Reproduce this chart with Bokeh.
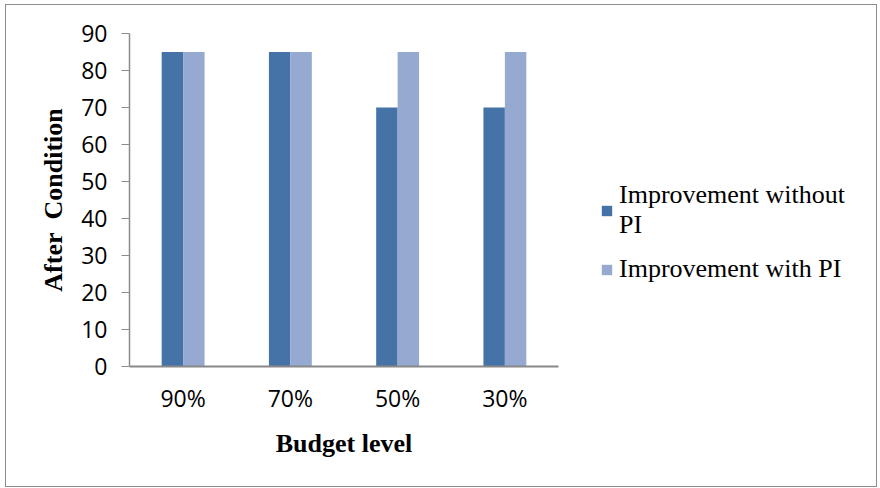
from bokeh.plotting import figure
from bokeh.models import FactorRange, Range1d, ColumnDataSource, Legend, LegendItem, SingleIntervalTicker
from bokeh.transform import dodge
from bokeh.embed import file_html
from bokeh.resources import INLINE

categories = ["90%", "70%", "50%", "30%"]
without_pi = [85, 85, 70, 70]
with_pi = [85, 85, 85, 85]
series_names = ["Improvement without\nPI", "Improvement with PI"]
colors = ["#4673A7", "#95A9D1"]

src = ColumnDataSource(dict(cat=categories, a=without_pi, b=with_pi))

p = figure(
    x_range=FactorRange(factors=categories, range_padding=0),
    y_range=Range1d(0, 90),
    frame_width=429, frame_height=333,
    min_border_left=123, min_border_right=300,
    min_border_top=28, min_border_bottom=120,
    output_backend="svg", toolbar_location=None,
)
p.margin = (4, 0, 0, 5)
p.styles = {"border": "1px solid #8c8c8c", "width": "870px", "height": "481px",
            "overflow": "hidden", "box-sizing": "content-box"}
p.outline_line_color = None
p.grid.grid_line_color = None
p.background_fill_color = "white"
p.border_fill_color = "white"

r1 = p.vbar(x=dodge("cat", -0.1, range=p.x_range), top="a", width=0.2, source=src,
            fill_color=colors[0], line_color=None)
r2 = p.vbar(x=dodge("cat", 0.1, range=p.x_range), top="b", width=0.2, source=src,
            fill_color=colors[1], line_color=None)

# y axis
ya = p.yaxis[0]
ya.ticker = SingleIntervalTicker(interval=10)
ya.axis_label = "After\u00a0 Condition"
ya.axis_label_text_font = "Liberation Serif"
ya.axis_label_text_font_style = "bold"
ya.axis_label_text_font_size = "26px"
ya.axis_label_text_color = "black"
ya.axis_label_standoff = 10
ya.major_label_text_font = "Open Sans"
ya.major_label_text_font_size = "23px"
ya.major_label_text_color = "black"
ya.major_label_standoff = 14
ya.major_tick_out = 8
ya.major_tick_in = 0
ya.minor_tick_out = 0
ya.minor_tick_in = 0
ya.axis_line_color = "#8c8c8c"
ya.major_tick_line_color = "#8c8c8c"
ya.axis_line_width = 1.5

# x axis
xa = p.xaxis[0]
xa.axis_label = "Budget level"
xa.axis_label_text_font = "Liberation Serif"
xa.axis_label_text_font_style = "bold"
xa.axis_label_text_font_size = "26px"
xa.axis_label_text_color = "black"
xa.axis_label_standoff = 12
xa.major_label_text_font = "Open Sans"
xa.major_label_text_font_size = "23px"
xa.major_label_text_color = "black"
xa.major_label_standoff = 15
xa.major_tick_out = 0
xa.major_tick_in = 0
xa.axis_line_color = "#888888"
xa.axis_line_width = 2

legend = Legend(
    items=[LegendItem(label=series_names[0], renderers=[r1]),
           LegendItem(label=series_names[1], renderers=[r2])],
    location=(42, 82),
    label_text_font="Liberation Serif",
    label_text_font_size="26px",
    label_text_color="black",
    label_text_line_height=1.15,
    glyph_width=13, glyph_height=13,
    label_standoff=6,
    spacing=14,
    padding=0, margin=0,
    border_line_color=None,
    background_fill_alpha=0,
)
p.add_layout(legend, "right")

open("out.html", "w").write(file_html(p, INLINE))
